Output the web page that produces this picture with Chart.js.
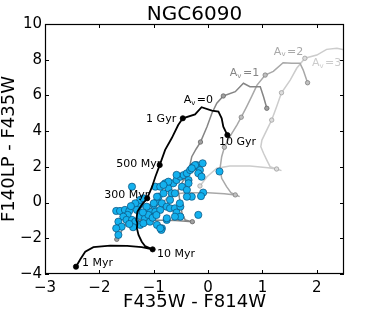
<!DOCTYPE html>
<html>
<head>
<meta charset="utf-8">
<script src="https://cdn.jsdelivr.net/npm/chart.js@4.4.0/dist/chart.umd.min.js"></script>
<style>
  html, body { margin: 0; padding: 0; background: #fff; }
</style>
</head>
<body>
<canvas id="myChart" width="374" height="312"></canvas>
<script>
// tick labels
const xTicks = [-3, -2, -1, 0, 1, 2];
const yTicks = [-4, -2, 0, 2, 4, 6, 8, 10];

// model tracks, [F435W-F814W, F140LP-F435W]
const av0Track = [[-2.43,-3.59],[-2.35,-3.17],[-2.26,-2.75],[-2.11,-2.50],[-1.80,-2.41],[-1.49,-2.43],[-1.22,-2.50],[-1.02,-2.62],[-0.99,-2.66],[-1.16,-2.43],[-1.22,-2.19],[-1.28,-1.81],[-1.31,-1.44],[-1.30,-1.16],[-1.32,-0.97],[-1.30,-0.51],[-1.22,-0.13],[-1.12,0.24],[-1.03,0.89],[-0.97,1.45],[-0.89,2.10],[-0.79,2.95],[-0.67,3.60],[-0.55,4.34],[-0.465,4.72],[-0.24,4.94],[-0.12,5.34],[0.07,5.15],[0.19,5.09],[0.25,4.72],[0.28,4.25],[0.355,3.78]];
const av0Marks = [0, 7, 17, 20, 24, 31];

const av1Track = [[-1.68,-2.06],[-1.62,-1.75],[-1.55,-1.35],[-1.45,-1.05],[-1.1,-0.97],[-0.6,-1.0],[-0.29,-1.07],[-0.25,-1.12],[-0.42,-0.98],[-0.48,-0.6],[-0.5,-0.2],[-0.53,0.3],[-0.55,0.71],[-0.45,1.27],[-0.36,1.73],[-0.30,2.57],[-0.22,3.0],[-0.14,3.39],[-0.02,4.25],[0.07,5.0],[0.16,5.56],[0.28,5.97],[0.50,6.21],[0.65,6.68],[0.77,6.49],[0.96,6.49],[1.02,5.93],[1.08,5.28]];
const av1Marks = [0, 6, 14, 17, 21, 27];

const av2Track = [[-0.93,-0.62],[-0.87,-0.3],[-0.80,0.1],[-0.70,0.45],[-0.4,0.55],[0.0,0.55],[0.3,0.5],[0.50,0.43],[0.58,0.33],[0.42,0.55],[0.34,0.89],[0.25,1.36],[0.22,1.92],[0.25,2.57],[0.30,3.1],[0.40,3.69],[0.53,4.34],[0.61,4.78],[0.71,5.37],[0.80,5.93],[0.9,6.58],[1.05,7.14],[1.2,7.35],[1.38,7.83],[1.54,7.80],[1.69,7.80],[1.75,7.42],[1.83,6.71]];
const av2Marks = [0, 7, 14, 17, 21, 27];

const av3Track = [[-0.15,0.93],[-0.02,1.45],[0.16,1.92],[0.40,2.05],[0.77,2.05],[1.1,1.95],[1.26,1.88],[1.35,1.79],[1.14,2.01],[1.08,2.38],[1.02,2.76],[0.97,3.13],[0.99,3.5],[1.11,4.25],[1.17,4.62],[1.26,5.37],[1.35,6.15],[1.51,6.86],[1.63,7.52],[1.78,8.08],[2.0,8.26],[2.18,8.58],[2.37,8.64],[2.5,8.55],[2.6,8.3]];
const av3Marks = [0, 6, 14, 16, 19];

// observed clusters
const clusters = [[-1.40,0.89],[-1.69,-0.47],[-1.62,-0.47],[-1.53,-0.41],[-1.45,-0.47],[-1.48,-0.69],[-1.56,-0.79],[-1.65,-1.07],[-1.59,-1.35],[-1.50,-0.97],[-1.40,-0.97],[-1.34,-1.07],[-1.38,-1.38],[-1.25,-0.75],[-1.16,-0.88],[-1.25,-1.25],[-1.19,-1.16],[-1.07,-1.07],[-0.94,-1.25],[-0.85,-1.44],[-1.07,-0.51],[-0.97,-0.51],[-0.88,-0.41],[-1.00,-0.13],[-0.94,0.05],[-0.85,-0.04],[-0.91,0.33],[-0.82,0.52],[-0.97,0.89],[-0.88,0.89],[-0.79,1.08],[-0.73,0.80],[-0.67,0.52],[-0.61,0.52],[-0.70,0.15],[-0.76,-0.23],[-0.70,-0.32],[-0.61,-0.32],[-0.51,-0.23],[-0.58,-0.56],[-0.51,-0.79],[-0.76,-0.97],[-0.64,1.08],[-0.58,1.26],[-0.51,1.45],[-0.45,1.54],[-0.39,1.64],[-0.33,1.82],[-0.27,2.01],[-0.21,2.10],[-0.15,1.82],[-0.10,2.20],[-0.18,1.64],[-0.12,1.45],[-0.36,1.26],[-0.48,0.89],[-0.39,0.71],[-0.30,0.33],[-0.39,0.33],[-0.18,-0.69],[-1.26,-0.13],[-1.25,0.15],[-1.19,0.24],[-1.34,-0.04],[-1.31,-0.41],[-1.13,-0.23],[-1.10,-0.69],[0.21,1.74],[-0.09,0.56],[-0.13,0.36],[-0.52,-0.04],[-0.86,-1.53],[-1.65,-1.81],[-1.69,-1.44],[-0.24,2.10],[-0.30,1.92],[-0.36,1.08],[-0.58,1.55],[-0.73,1.17],[-0.82,0.99],[-0.94,0.33],[-1.0,-0.04],[-0.61,-0.79],[-0.76,-0.88],[-0.88,-1.44],[-1.42,-0.2],[-1.2,-0.55],[-1.02,-0.85],[-0.95,-0.7],[-1.45,-1.2]];

const ageLabels = [
  {text: '1 Gyr', x: -1.14, y: 4.68},
  {text: '500 Myr', x: -1.69, y: 2.16},
  {text: '300 Myr', x: -1.91, y: 0.43},
  {text: '10 Gyr', x: 0.2, y: 3.36},
  {text: '10 Myr', x: -0.94, y: -2.88},
  {text: '1 Myr', x: -2.32, y: -3.4}
];
const avLabels = [
  {av: '0', x: -0.45, y: 5.74, color: '#000000'},
  {av: '1', x: 0.40, y: 7.27, color: '#858585'},
  {av: '2', x: 1.21, y: 8.45, color: '#a8a8a8'},
  {av: '3', x: 1.91, y: 7.8, color: '#cccccc'}
];

const font = 'DejaVu Sans';
const toXY = arr => arr.map(p => ({x: p[0], y: p[1]}));

function track(data, marks, color, markFill, markEdge, width, r) {
  return {
    data: toXY(data),
    showLine: true,
    borderColor: color,
    borderWidth: width,
    pointRadius: c => marks.includes(c.dataIndex) ? r : 0,
    pointBackgroundColor: markFill,
    pointBorderColor: markEdge,
    pointBorderWidth: 0.8
  };
}

const frame = {
  id: 'frame',
  afterDatasetsDraw(chart) {
    const {ctx, chartArea: a, scales: {x, y}} = chart;
    ctx.save();
    ctx.strokeStyle = '#000';
    ctx.lineWidth = 1;
    ctx.beginPath();
    xTicks.forEach(v => {
      const px = Math.round(x.getPixelForValue(v)) + 0.5;
      ctx.moveTo(px, a.bottom); ctx.lineTo(px, a.bottom - 4);
      ctx.moveTo(px, a.top); ctx.lineTo(px, a.top + 4);
    });
    yTicks.forEach(v => {
      const py = Math.round(y.getPixelForValue(v)) + 0.5;
      ctx.moveTo(a.left, py); ctx.lineTo(a.left + 4, py);
      ctx.moveTo(a.right, py); ctx.lineTo(a.right - 4, py);
    });
    ctx.stroke();
    ctx.lineWidth = 1.2;
    ctx.strokeRect(a.left + 0.5, a.top + 0.5, a.right - a.left - 1, a.bottom - a.top - 1);

    ctx.textBaseline = 'middle';
    ctx.textAlign = 'left';
    ctx.fillStyle = '#000';
    ctx.font = '11px "' + font + '"';
    ageLabels.forEach(l => {
      ctx.fillText(l.text, x.getPixelForValue(l.x), y.getPixelForValue(l.y));
    });
    avLabels.forEach(l => {
      let px = x.getPixelForValue(l.x);
      const py = y.getPixelForValue(l.y);
      ctx.fillStyle = l.color;
      ctx.font = '11px "' + font + '"';
      ctx.fillText('A', px, py);
      px += ctx.measureText('A').width;
      ctx.font = '7px "' + font + '"';
      ctx.fillText('v', px, py + 3);
      px += ctx.measureText('v').width + 1.5;
      ctx.font = '11px "' + font + '"';
      ctx.fillText('=' + l.av, px, py);
    });
    ctx.restore();
  }
};

const minus = v => v < 0 ? '\u2212' + Math.abs(v) : String(v);

new Chart(document.getElementById('myChart'), {
  type: 'scatter',
  data: {
    datasets: [
      track(av0Track, av0Marks, '#000000', '#000000', '#000000', 1.8, 2.6),
      {
        data: toXY(clusters),
        pointRadius: 3.6,
        pointBackgroundColor: '#14b1ee',
        pointBorderColor: '#0b4f7a',
        pointBorderWidth: 0.7
      },
      track(av1Track, av1Marks, '#858585', '#a0a0a0', '#666666', 1.5, 2.2),
      track(av2Track, av2Marks, '#a8a8a8', '#c0c0c0', '#808080', 1.5, 2.2),
      track(av3Track, av3Marks, '#cccccc', '#dddddd', '#a0a0a0', 1.5, 2.2)
    ]
  },
  options: {
    responsive: false,
    animation: false,
    layout: { padding: { left: 0, right: 30, top: 0, bottom: 0 } },
    plugins: {
      legend: { display: false },
      tooltip: { enabled: false },
      title: {
        display: true,
        fullSize: false,
        text: 'NGC6090',
        color: '#000',
        font: { family: font, size: 20, weight: 'normal', lineHeight: 0.95 },
        padding: { top: 5, bottom: 0 }
      }
    },
    scales: {
      x: {
        type: 'linear',
        min: -3, max: 2.5,
        afterBuildTicks: s => { s.ticks = xTicks.map(v => ({value: v})); },
        afterFit: s => { s.height = 38; },
        grid: { display: false, drawTicks: false },
        border: { display: false },
        ticks: { color: '#000', font: { family: font, size: 15 }, padding: 5, maxRotation: 0, callback: minus },
        title: { display: true, text: 'F435W - F814W', color: '#000', font: { family: font, size: 18, lineHeight: 1 }, padding: { top: 0, bottom: 1 } }
      },
      y: {
        type: 'linear',
        min: -4, max: 10,
        afterBuildTicks: s => { s.ticks = yTicks.map(v => ({value: v})); },
        afterFit: s => { s.width = 45; },
        grid: { display: false, drawTicks: false },
        border: { display: false },
        ticks: { color: '#000', font: { family: font, size: 15 }, padding: 3, callback: minus },
        title: { display: true, text: 'F140LP - F435W', color: '#000', font: { family: font, size: 18, lineHeight: 1 }, padding: { top: 0, bottom: 0 } }
      }
    }
  },
  plugins: [frame]
});
</script>
</body>
</html>
